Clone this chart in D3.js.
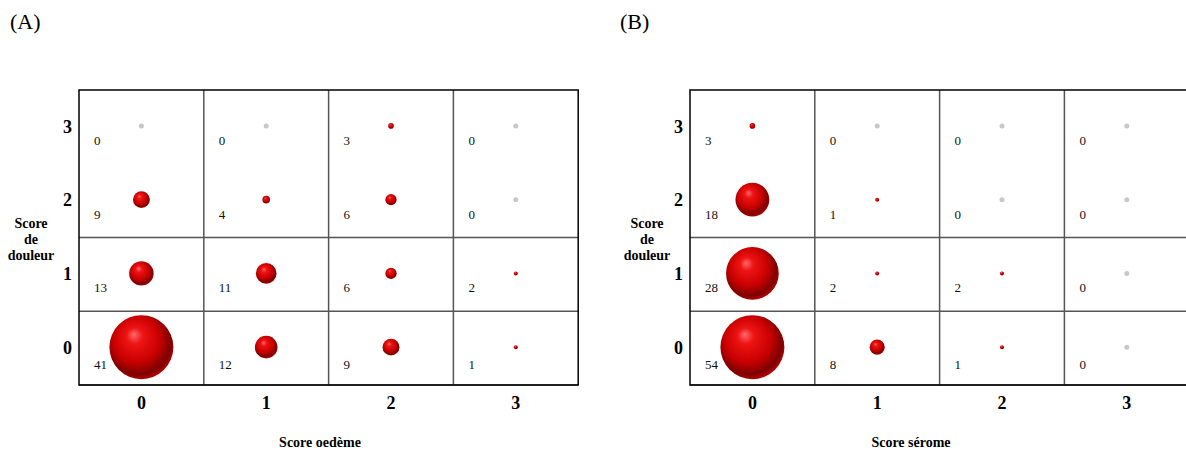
<!DOCTYPE html>
<html>
<head>
<meta charset="utf-8">
<script src="https://cdn.jsdelivr.net/npm/d3@7/dist/d3.min.js"></script>
<style>
  body { margin: 0; background: #fff; }
  svg text { font-family: "Liberation Serif", "DejaVu Serif", serif; }
</style>
</head>
<body>
<div id="chart"></div>
<script>
// Score levels (same for both axes)
const scores = ['0', '1', '2', '3'];

// Counts, indexed [douleur][x score]
const douleurOedeme = [
  [41, 12, 9, 1],  // douleur 0
  [13, 11, 6, 2],  // douleur 1
  [9, 4, 6, 0],    // douleur 2
  [0, 0, 3, 0],    // douleur 3
];
const douleurSerome = [
  [54, 8, 1, 0],
  [28, 2, 2, 0],
  [18, 1, 0, 0],
  [3, 0, 0, 0],
];

const panelLetters = ['(A)', '(B)'];
const xTitles = ['Score oedème', 'Score sérome'];
const yTitle = ['Score', 'de', 'douleur'];

const width = 1186;
const height = 450;
const cellW = 124.8;
const gridTop = 90;
const gridBottom = 385;
const serif = '"Liberation Serif", "DejaVu Serif", serif';

const panels = [
  { letter: panelLetters[0], data: douleurOedeme, xTitle: xTitles[0], left: 79, letterX: 10, yTitleX: 31, xTitleX: 320 },
  { letter: panelLetters[1], data: douleurSerome, xTitle: xTitles[1], left: 690, letterX: 620, yTitleX: 647, xTitleX: 911 },
];

// bubble radius: roughly linear, capped for the largest counts
var scaleR = d3.scaleLinear()
  .domain([0, 34])
  .range([0, 32])
  .clamp(true);

var svg = d3.select('#chart')
  .append('svg')
  .attr('width', width)
  .attr('height', height)
  .attr('font-family', serif);

// shaded sphere look
var grad = svg.append('defs')
  .append('radialGradient')
  .attr('id', 'sphere')
  .attr('cx', '0.45')
  .attr('cy', '0.42')
  .attr('r', '0.58')
  .attr('fx', '0.38')
  .attr('fy', '0.3');
grad.append('stop').attr('offset', '0').attr('stop-color', '#ff6a6a');
grad.append('stop').attr('offset', '0.22').attr('stop-color', '#ee1414');
grad.append('stop').attr('offset', '0.62').attr('stop-color', '#c90000');
grad.append('stop').attr('offset', '0.9').attr('stop-color', '#7c0000');
grad.append('stop').attr('offset', '1').attr('stop-color', '#b30000');

panels.forEach(function (p) {
  var scaleX = d3.scaleBand()
    .domain(scores)
    .range([p.left, p.left + cellW * 4]);

  var scaleY = d3.scaleBand()
    .domain(scores.slice().reverse())
    .range([gridTop, gridBottom]);

  var g = svg.append('g');

  // cells as flat list
  var cells = [];
  p.data.forEach(function (row, yi) {
    row.forEach(function (v, xi) {
      cells.push({ x: scores[xi], y: scores[yi], v: v });
    });
  });

  // inner grid lines
  g.selectAll('line.v')
    .data(scores.slice(1))
    .enter()
    .append('line')
    .attr('x1', function (d) { return scaleX(d); })
    .attr('x2', function (d) { return scaleX(d); })
    .attr('y1', gridTop)
    .attr('y2', gridBottom)
    .attr('stroke', '#555')
    .attr('stroke-width', 1.5);

  g.selectAll('line.h')
    .data(scores.slice(0, 3))
    .enter()
    .append('line')
    .attr('x1', p.left)
    .attr('x2', p.left + cellW * 4)
    .attr('y1', function (d) { return scaleY(d) + scaleY.bandwidth(); })
    .attr('y2', function (d) { return scaleY(d) + scaleY.bandwidth(); })
    .attr('stroke', '#555')
    .attr('stroke-width', 1.5);

  g.append('rect')
    .attr('x', p.left)
    .attr('y', gridTop)
    .attr('width', cellW * 4)
    .attr('height', gridBottom - gridTop)
    .attr('fill', 'none')
    .attr('stroke', '#000')
    .attr('stroke-width', 1.5);

  // bubbles
  g.selectAll('circle')
    .data(cells)
    .enter()
    .append('circle')
    .attr('cx', function (d) { return scaleX(d.x) + scaleX.bandwidth() / 2; })
    .attr('cy', function (d) { return scaleY(d.y) + scaleY.bandwidth() / 2 - 1; })
    .attr('r', function (d) { return d.v === 0 ? 2.5 : Math.max(2, scaleR(d.v)); })
    .attr('fill', function (d) { return d.v === 0 ? '#c8c8c8' : 'url(#sphere)'; });

  // counts
  g.selectAll('text.count')
    .data(cells)
    .enter()
    .append('text')
    .attr('class', 'count')
    .text(function (d) { return d.v; })
    .attr('x', function (d) { return scaleX(d.x) + 15; })
    .attr('y', function (d) { return scaleY(d.y) + scaleY.bandwidth() / 2 + (d.y === '0' ? 21 : 18); })
    .attr('font-family', serif)
    .attr('font-size', '13px')
    .attr('fill', '#111');

  // axes
  var axisX = d3.axisBottom(scaleX).tickSize(0).tickPadding(11);
  var axisY = d3.axisLeft(scaleY).tickSize(0).tickPadding(7);

  var gx = g.append('g')
    .attr('transform', 'translate(0,' + gridBottom + ')')
    .call(axisX);
  var gy = g.append('g')
    .attr('transform', 'translate(' + p.left + ',0)')
    .call(axisY);

  [gx, gy].forEach(function (a) {
    a.attr('font-family', serif);
    a.select('.domain').remove();
    a.selectAll('text')
      .attr('font-family', serif)
      .attr('font-size', '18px')
      .attr('font-weight', 'bold')
      .attr('fill', '#000');
  });

  // titles
  g.append('text')
    .text(p.letter)
    .attr('x', p.letterX)
    .attr('y', 29)
    .attr('font-family', serif)
    .attr('font-size', '22px')
    .attr('fill', '#000');

  g.append('text')
    .text(p.xTitle)
    .attr('x', p.xTitleX)
    .attr('y', 447)
    .attr('text-anchor', 'middle')
    .attr('font-family', serif)
    .attr('font-size', '14px')
    .attr('font-weight', 'bold');

  g.append('text')
    .attr('font-family', serif)
    .selectAll('tspan')
    .data(yTitle)
    .enter()
    .append('tspan')
    .text(function (d) { return d; })
    .attr('x', p.yTitleX)
    .attr('y', function (d, i) { return 228 + i * 16; })
    .attr('text-anchor', 'middle')
    .attr('font-size', '14px')
    .attr('font-weight', 'bold');
});
</script>
</body>
</html>
